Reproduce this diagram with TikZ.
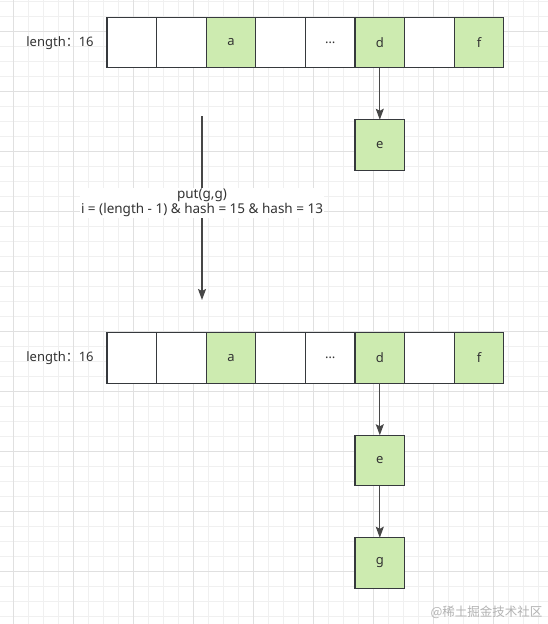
\documentclass[tikz,border=0pt]{standalone}
\usepackage{fontspec}
\setmainfont{Noto Sans}
\newfontfamily\cjk{Noto Sans CJK SC}
\usetikzlibrary{positioning,arrows.meta}

\definecolor{gridmin}{HTML}{F0F0F0}
\definecolor{gridmaj}{HTML}{E0E0E0}
\definecolor{edge}{HTML}{36393D}
\definecolor{hit}{HTML}{CDEBB0}
\definecolor{ink}{HTML}{333333}

\tikzset{
  cell/.style={draw=edge, line width=1.2pt, minimum width=49.6pt, minimum height=50.5pt,
               inner sep=0pt, outer sep=0pt, text=ink, font=\fontsize{13}{14}\selectfont},
  lenlab/.style={text=ink, font=\fontsize{13}{14}\selectfont},
  link/.style={draw=ink!90, line width=1.2pt, -{Stealth[length=11pt,width=8pt,inset=2pt]}},
  oplab/.style={fill=white, text=ink, align=center, inner sep=1pt,
                font=\fontsize{13.5}{15}\selectfont}
}

\begin{document}
\begin{tikzpicture}[x=1pt,y=-1pt, line cap=butt, line join=miter]

\useasboundingbox (0,0) rectangle (548,624);
\fill[white] (0,0) rectangle (548,624);

% 背景网格
\foreach \k in {0,...,35} \draw[gridmin, line width=0.8pt] ({13.3+15*\k},0) -- ({13.3+15*\k},624);
\foreach \k in {0,...,41} \draw[gridmin, line width=0.8pt] (0,{1.7+15*\k}) -- (548,{1.7+15*\k});
\foreach \k in {0,...,8}  \draw[gridmaj, line width=0.8pt] ({13.3+60*\k},0) -- ({13.3+60*\k},624);
\foreach \k in {0,...,9}  \draw[gridmaj, line width=0.8pt] (0,{31.7+60*\k}) -- (548,{31.7+60*\k});

% 上面的数组
\foreach \i/\txt/\col in {1/{}/white,2/{}/white,3/a/hit,4/{}/white,5/{…}/white,6/d/hit,7/{}/white,8/f/hit}
  \node[cell, fill=\col] (t\i) at ({107+49.6*(\i-0.5)},42.5) {\txt};
\node[lenlab] (tlen) at (60,43) {length{\cjk ：}16};

\node[cell, fill=hit, below=52pt of t6] (te) {e};
\draw[link] (t6) -- (te);

% 中间的 put 操作
\coordinate (opsrc) at (202,116);
\coordinate (opdst) at (202,300);
\draw[link] (opsrc) -- (opdst);
\node[oplab] (op) at (202,203) {put(g,g)\\i = (length - 1) \& hash = 15 \& hash = 13};

% 下面的数组
\foreach \i/\txt/\col in {1/{}/white,2/{}/white,3/a/hit,4/{}/white,5/{…}/white,6/d/hit,7/{}/white,8/f/hit}
  \node[cell, fill=\col] (b\i) at ({107+49.6*(\i-0.5)},358) {\txt};
\node[lenlab] (blen) at (60,358) {length{\cjk ：}16};

\node[cell, fill=hit, below=52pt of b6] (be) {e};
\node[cell, fill=hit, below=52pt of be] (bg) {g};
\draw[link] (b6) -- (be);
\draw[link] (be) -- (bg);

% 水印
\node[text=black!30, anchor=east, font=\cjk\fontsize{12.5}{14}\selectfont] (wm) at (546,612) {@稀土掘金技术社区};

\end{tikzpicture}
\end{document}
